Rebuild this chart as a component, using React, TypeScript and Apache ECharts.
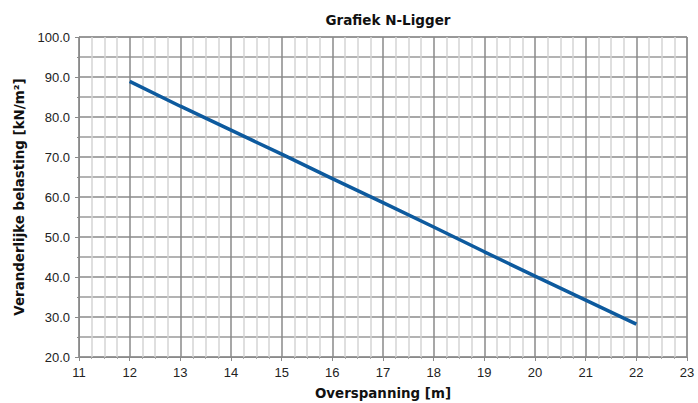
import React, { useEffect, useRef } from "react";
import * as echarts from "echarts";

const spans = [12, 13, 14, 15, 16, 17, 18, 19, 20, 21, 22];
const loads = [88.9, 82.7, 76.7, 70.7, 64.6, 58.6, 52.5, 46.3, 40.2, 34.2, 28.2];
const titleText = "Grafiek N-Ligger";
const xName = "Overspanning [m]";
const yName = "Veranderlijke belasting [kN/m²]";

export default function App() {
  const ref = useRef<HTMLDivElement>(null);
  useEffect(() => {
    if (!ref.current) return;
    const chart = echarts.init(ref.current, undefined, { renderer: "svg" });
    const labelFont = { fontFamily: "Liberation Sans", fontSize: 13, color: "#222" };
    const nameFont = { fontFamily: "DejaVu Sans", fontWeight: "bold", fontSize: 13.4, color: "#111" };
    chart.setOption({
      animation: false,
      backgroundColor: "#fff",
      title: {
        text: titleText,
        left: 383,
        textAlign: "center",
        top: 8,
        textStyle: { ...nameFont, fontSize: 13.5 },
      },
      grid: {
        left: 79,
        right: 11,
        top: 37,
        bottom: 46,
        show: true,
        borderColor: "#8a8a8a",
        borderWidth: 1,
        containLabel: false,
        outerBoundsMode: "none",
      },
      xAxis: {
        type: "value",
        min: 11,
        max: 23,
        interval: 1,
        name: xName,
        nameLocation: "middle",
        nameGap: 30,
        nameTextStyle: nameFont,
        axisLine: { show: true, lineStyle: { color: "#8a8a8a" } },
        axisTick: { show: true, length: 4, lineStyle: { color: "#8a8a8a" } },
        minorTick: { show: true, splitNumber: 4, length: 2, lineStyle: { color: "#aaa" } },
        axisLabel: { ...labelFont, margin: 9 },
        splitLine: { show: true, lineStyle: { color: "#8a8a8a", width: 1.5 } },
        minorSplitLine: { show: true, lineStyle: { color: "#d4d4d4", width: 1.5 } },
      },
      yAxis: {
        type: "value",
        min: 20,
        max: 100,
        interval: 10,
        name: yName,
        nameLocation: "middle",
        nameGap: 53,
        nameTextStyle: nameFont,
        axisLine: { show: true, lineStyle: { color: "#8a8a8a" } },
        axisTick: { show: true, length: 4, lineStyle: { color: "#8a8a8a" } },
        minorTick: { show: true, splitNumber: 2, length: 2, lineStyle: { color: "#8a8a8a" } },
        axisLabel: { ...labelFont, margin: 9, formatter: (v: number) => v.toFixed(1) },
        splitLine: { show: true, lineStyle: { color: "#8a8a8a", width: 1.5 } },
        minorSplitLine: { show: true, lineStyle: { color: "#9a9a9a", width: 1.5 } },
      },
      series: [
        {
          type: "line",
          data: spans.map((s, i) => [s, loads[i]]),
          showSymbol: false,
          symbol: "none",
          lineStyle: { color: "#0d5a9e", width: 3.5 },
        },
      ],
    });
    return () => chart.dispose();
  }, []);
  return <div ref={ref} style={{ width: 698, height: 403, position: "absolute", left: 0, top: 0 }} />;
}
